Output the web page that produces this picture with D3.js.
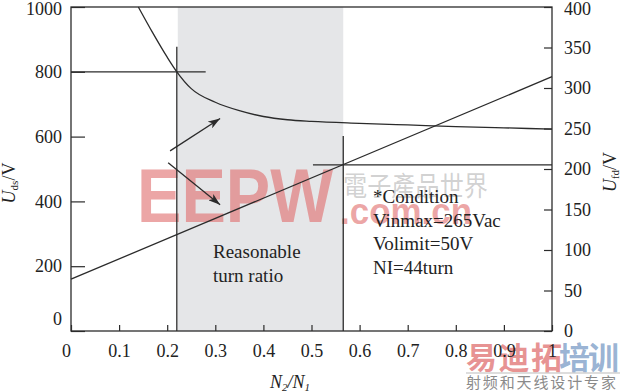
<!DOCTYPE html>
<html><head><meta charset="utf-8">
<script src="https://cdn.jsdelivr.net/npm/d3@7"></script>
<style>
html,body{margin:0;padding:0;background:#fff;}
svg{display:block;}
</style>
</head><body>
<svg id="chart" width="620" height="392"></svg>
<script>
// ---- data ----
const xTicks = [0, 0.1, 0.2, 0.3, 0.4, 0.5, 0.6, 0.7, 0.8, 0.9, 1];
const xTickLabels = ["0", "0.1", "0.2", "0.3", "0.4", "0.5", "0.6", "0.7", "0.8", "0.9", "1"];
const udsTicks = [0, 200, 400, 600, 800, 1000];
const ufdTicks = [0, 50, 100, 150, 200, 250, 300, 350, 400];
// Uds curve (left axis)
const udsN = [0.14, 0.17, 0.20, 0.22, 0.25, 0.30, 0.35, 0.40, 0.45, 0.50, 0.60, 0.70, 0.80, 0.90, 1.0];
const udsV = [1000, 920, 845, 800, 748, 706, 680, 662, 652, 647, 641, 636, 631, 627, 623];
// Ufd line (right axis)
const ufdN = [0, 1];
const ufdV = [64, 314];
// reasonable turn-ratio band
const bandN = [0.222, 0.566];
// reference lines
const vLineN = [0.22, 0.566];
const vLineTopUds = [877, 602];
const hLineUds = 800, hLineUdsTo = 0.28;
const hLineUfd = 205, hLineUfdFrom = 0.503;
// arrows (in N2/N1, Uds units)
const arrowFromN = [0.206, 0.202], arrowFromV = [556, 519];
const arrowToN = [0.31, 0.31], arrowToV = [656, 390];
const bandLabel = ["Reasonable", "turn ratio"];
const condLabel = ["*Condition", "Vinmax=265Vac", "Volimit=50V", "NI=44turn"];

// ---- layout ----
const L = 71, R = 552, T = 7, B = 331;
const svg = d3.select("#chart");
const x = d3.scaleLinear().domain([0, 1]).range([L, R]);
const yL = d3.scaleLinear().domain([0, 1000]).range([B, T]);
const yR = d3.scaleLinear().domain([0, 400]).range([B, T]);
const ink = "#2b2b2b";
const serif = "'Times New Roman','Liberation Serif',Tinos,'DejaVu Serif','Noto Serif',serif";

// band
svg.append("rect").attr("x", x(bandN[0])).attr("y", T)
  .attr("width", x(bandN[1]) - x(bandN[0])).attr("height", B - T)
  .attr("fill", "#e5e6e8");

// watermarks
const wm = svg.append("g");
wm.append("text").text("EEPW").attr("x", 137).attr("y", 222)
  .attr("font-family", "'Liberation Sans',Arial,sans-serif").attr("font-weight", "bold")
  .attr("font-size", 76).attr("textLength", 196).attr("lengthAdjust", "spacingAndGlyphs")
  .attr("fill", "#e06a6a").attr("fill-opacity", 0.6);
wm.append("text").text("電子產品世界").attr("x", 343).attr("y", 196)
  .attr("font-family", "'Noto Sans CJK TC',sans-serif").attr("font-size", 27)
  .attr("textLength", 145).attr("lengthAdjust", "spacingAndGlyphs")
  .attr("fill", "#9a9a9a").attr("fill-opacity", 0.45);
wm.append("text").text(".com.cn").attr("x", 340).attr("y", 224)
  .attr("font-family", "'Liberation Sans',Arial,sans-serif").attr("font-weight", "bold")
  .attr("font-size", 36).attr("textLength", 132).attr("lengthAdjust", "spacingAndGlyphs")
  .attr("fill", "#e06a6a").attr("fill-opacity", 0.6);
wm.append("text").text("易迪拓").attr("x", 466).attr("y", 369)
  .attr("font-family", "'Noto Sans CJK SC',sans-serif").attr("font-weight", "bold")
  .attr("font-size", 31).attr("textLength", 96)
  .attr("fill", "#e07070").attr("fill-opacity", 0.75);
wm.append("text").text("培训").attr("x", 559).attr("y", 369)
  .attr("font-family", "'Noto Sans CJK SC',sans-serif").attr("font-weight", "bold")
  .attr("font-size", 31).attr("textLength", 60)
  .attr("fill", "#7f9fc8").attr("fill-opacity", 0.8);
wm.append("line").attr("x1", 466).attr("x2", 620).attr("y1", 373).attr("y2", 373)
  .attr("stroke", "#bbb").attr("stroke-width", 1);
wm.append("text").text("射频和天线设计专家").attr("x", 466).attr("y", 388)
  .attr("font-family", "'Noto Sans CJK SC',sans-serif").attr("font-size", 15)
  .attr("textLength", 150).attr("fill", "#8a8a8a");

// axes
const gL = svg.append("g").attr("transform", `translate(${L},0)`)
  .call(d3.axisLeft(yL).tickValues(udsTicks).tickFormat(d3.format("d"))
    .tickSizeInner(-14).tickSizeOuter(0).tickPadding(9));
const gR = svg.append("g").attr("transform", `translate(${R},0)`)
  .call(d3.axisRight(yR).tickValues(ufdTicks).tickFormat(d3.format("d"))
    .tickSizeInner(-8).tickSizeOuter(0).tickPadding(12));
const gB = svg.append("g").attr("transform", `translate(0,${B})`)
  .call(d3.axisBottom(x).tickValues(xTicks).tickFormat((d, i) => xTickLabels[i])
    .tickSizeInner(-6).tickSizeOuter(0).tickPadding(13));
[gL, gR, gB].forEach(g => {
  g.attr("font-family", serif);
  g.select(".domain").remove();
  g.selectAll("line").attr("stroke", ink).attr("stroke-width", 1.2);
  g.selectAll("text").attr("font-family", serif).attr("font-size", 18).attr("fill", "#222");
});
gL.selectAll(".tick").filter(d => d === 0).select("text").attr("y", -12);
gL.selectAll(".tick").filter(d => d === 1000).select("text").attr("y", 2);
gR.selectAll(".tick").filter(d => d === 400).select("text").attr("y", 2);
gB.selectAll(".tick").filter(d => d === 0).select("text").attr("x", -5);

// reference lines
svg.append("line").attr("x1", x(0)).attr("x2", x(hLineUdsTo)).attr("y1", yL(hLineUds)).attr("y2", yL(hLineUds))
  .attr("stroke", ink).attr("stroke-width", 1.2);
svg.append("line").attr("x1", x(hLineUfdFrom)).attr("x2", x(1)).attr("y1", yR(hLineUfd)).attr("y2", yR(hLineUfd))
  .attr("stroke", ink).attr("stroke-width", 1.2);
vLineN.forEach((n, i) => {
  svg.append("line").attr("x1", x(n)).attr("x2", x(n)).attr("y1", yL(vLineTopUds[i])).attr("y2", yL(0))
    .attr("stroke", ink).attr("stroke-width", 1.3);
});

// curves
svg.append("path").datum(udsN.map((n, i) => [n, udsV[i]]))
  .attr("d", d3.line().x(d => x(d[0])).y(d => yL(d[1])).curve(d3.curveMonotoneX))
  .attr("fill", "none").attr("stroke", ink).attr("stroke-width", 1.3);
svg.append("path").datum(ufdN.map((n, i) => [n, ufdV[i]]))
  .attr("d", d3.line().x(d => x(d[0])).y(d => yR(d[1])))
  .attr("fill", "none").attr("stroke", ink).attr("stroke-width", 1.3);

// arrows
svg.append("defs").append("marker").attr("id", "ah").attr("viewBox", "0 0 12 8")
  .attr("refX", 12).attr("refY", 4).attr("markerWidth", 12).attr("markerHeight", 8)
  .attr("markerUnits", "userSpaceOnUse").attr("orient", "auto")
  .append("path").attr("d", "M0,0 L12,4 L0,8 L3,4 Z").attr("fill", ink);
arrowFromN.forEach((n, i) => {
  svg.append("line").attr("x1", x(n)).attr("y1", yL(arrowFromV[i]))
    .attr("x2", x(arrowToN[i])).attr("y2", yL(arrowToV[i]))
    .attr("stroke", ink).attr("stroke-width", 1.3).attr("marker-end", "url(#ah)");
});

// frame
svg.append("rect").attr("x", L).attr("y", T).attr("width", R - L).attr("height", B - T)
  .attr("fill", "none").attr("stroke", ink).attr("stroke-width", 1.3);

// annotations
bandLabel.forEach((t, i) => {
  svg.append("text").text(t).attr("x", 213).attr("y", 258 + i * 24)
    .attr("font-family", serif).attr("font-size", 19).attr("fill", "#222");
});
condLabel.forEach((t, i) => {
  svg.append("text").text(t).attr("x", 373).attr("y", 203 + i * 23.5)
    .attr("font-family", serif).attr("font-size", 19).attr("fill", "#222");
});

// axis titles
const tL = svg.append("text").attr("transform", "translate(15,183) rotate(-90)")
  .attr("text-anchor", "middle").attr("font-family", serif).attr("font-size", 18).attr("fill", "#222");
tL.append("tspan").attr("font-style", "italic").text("U");
tL.append("tspan").attr("font-size", 11).attr("dy", 3).text("ds");
tL.append("tspan").attr("dy", -3).text("/V");
const tR = svg.append("text").attr("transform", "translate(616,172) rotate(-90)")
  .attr("text-anchor", "middle").attr("font-family", serif).attr("font-size", 18).attr("fill", "#222");
tR.append("tspan").attr("font-style", "italic").text("U");
tR.append("tspan").attr("font-size", 11).attr("dy", 3).text("fd");
tR.append("tspan").attr("dy", -3).text("/V");
const tB = svg.append("text").attr("x", 290).attr("y", 388).attr("text-anchor", "middle")
  .attr("font-family", serif).attr("font-size", 18).attr("font-style", "italic").attr("fill", "#222");
tB.append("tspan").text("N");
tB.append("tspan").attr("font-size", 11).attr("dy", 3).text("2");
tB.append("tspan").attr("dy", -3).text("/N");
tB.append("tspan").attr("font-size", 11).attr("dy", 3).text("1");
</script>
</body></html>
